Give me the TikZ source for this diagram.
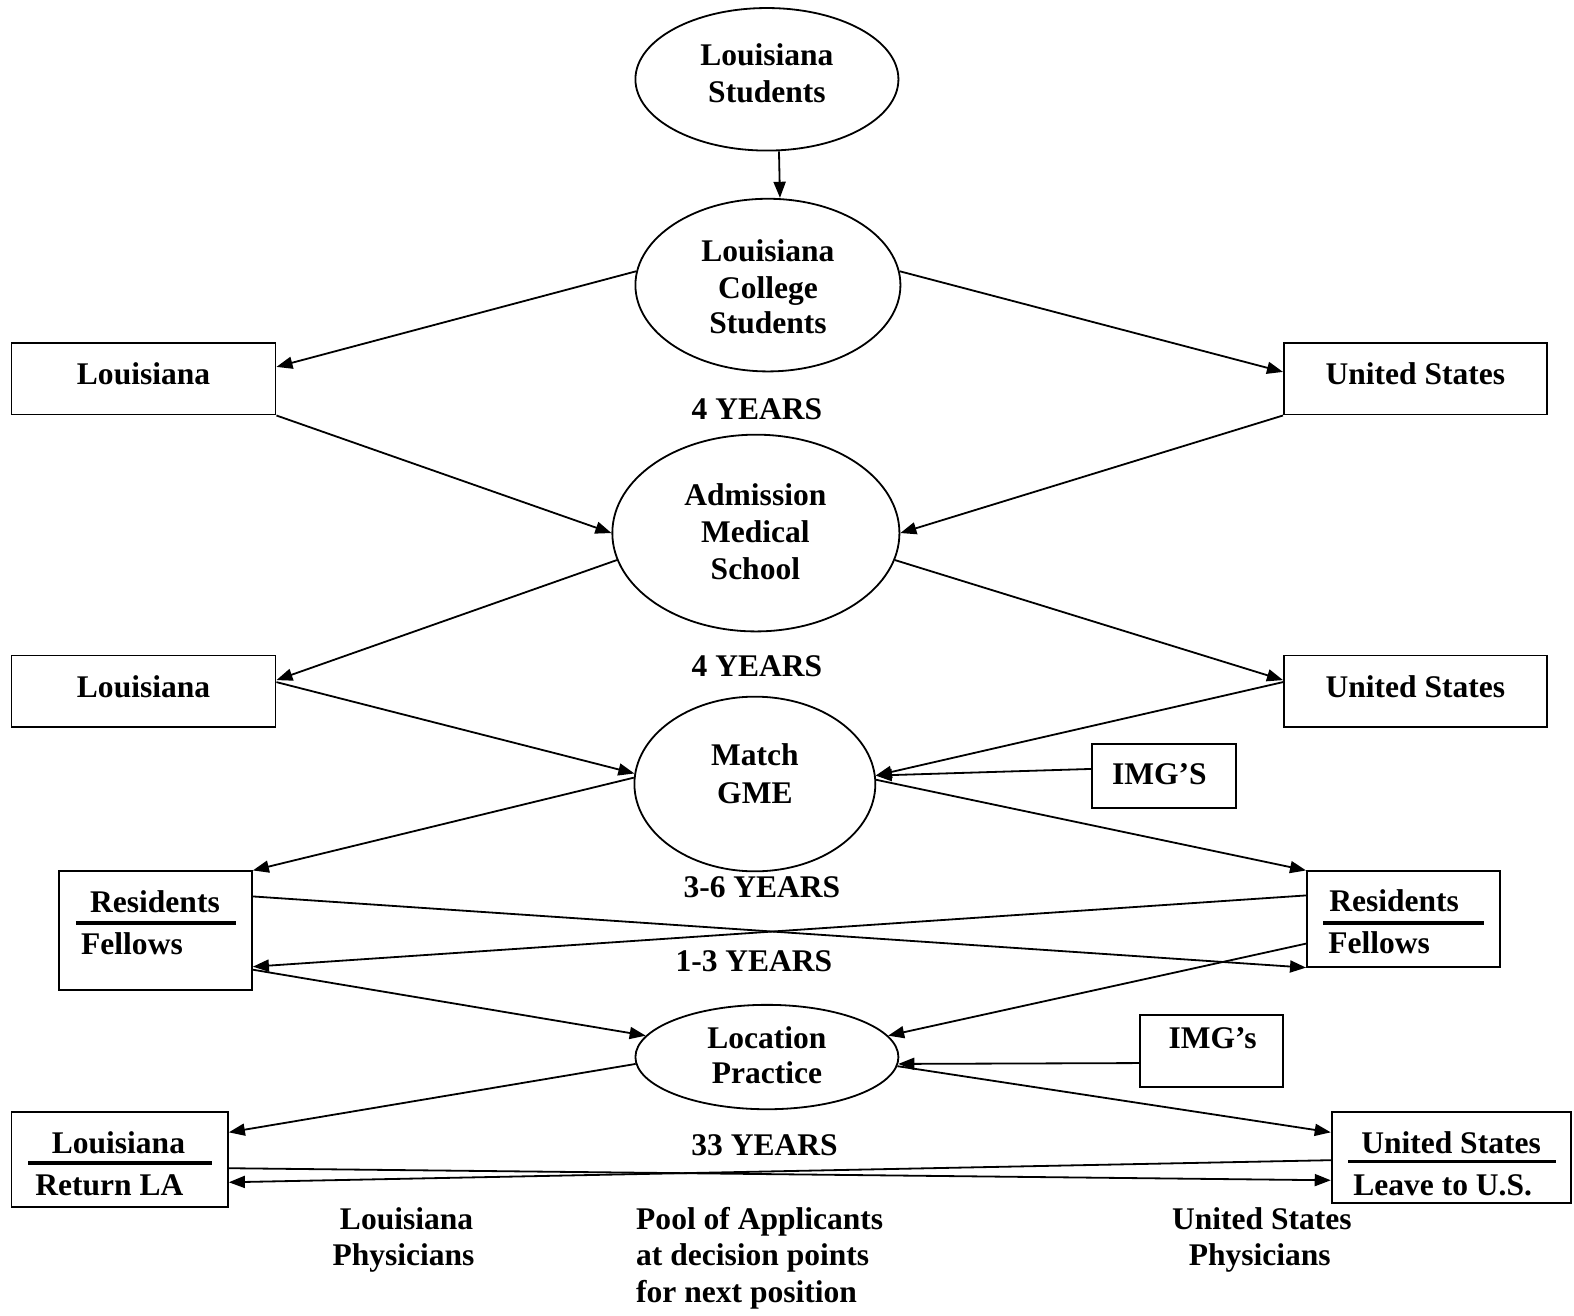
\documentclass[tikz,border=0pt]{standalone}
\usepackage{fontspec}
\setmainfont{Liberation Serif}
\usetikzlibrary{shapes.geometric,arrows.meta}
\begin{document}
\begin{tikzpicture}[x=1pt,y=-1pt,
 every node/.style={font=\fontsize{31.4}{36.3}\selectfont\bfseries},
 oval/.style={draw,ellipse,line width=1.8pt,inner sep=0pt},
 box/.style={draw,rectangle,line width=1.8pt,inner sep=0pt},
 txt/.style={anchor=base,inner sep=0pt},
 txtl/.style={anchor=base west,inner sep=0pt},
 arr/.style={line width=1.8pt,-{Triangle[length=16pt,width=12pt]}},
 rulebar/.style={line width=3.5pt}]
\fill[white] (0,0) rectangle (1568,1310);
\useasboundingbox (0,0) rectangle (1568,1310);

% ellipses
\node[oval,minimum width=262pt,minimum height=142pt] (ls) at (764,79) {};
\node[oval,minimum width=264pt,minimum height=172pt] (lcs) at (765,284) {};
\node[oval,minimum width=286pt,minimum height=196pt] (ams) at (753,531) {};
\node[oval,minimum width=240pt,minimum height=174pt] (gme) at (752,781) {};
\node[oval,minimum width=262pt,minimum height=104pt] (lp) at (764,1053) {};

\node[txt] (lsA) at (764,65.7) {Louisiana};
\node[txt] (lsB) at (764,102.3) {Students};
\node[txt] (lcsA) at (765,260.7) {Louisiana};
\node[txt] (lcsB) at (765,296.9) {College};
\node[txt] (lcsC) at (765,332.7) {Students};
\node[txt] (amsA) at (752.5,504) {Admission};
\node[txt] (amsB) at (752.5,540) {Medical};
\node[txt] (amsC) at (752.5,577) {School};
\node[txt] (gmeA) at (752,763) {Match};
\node[txt] (gmeB) at (752,800) {GME};
\node[txt] (lpA) at (764,1044) {Location};
\node[txt] (lpB) at (764,1079) {Practice};

% boxes
\node[box,minimum width=263pt,minimum height=71pt] (b1) at (143,377.5) {};
\node[box,minimum width=262pt,minimum height=71pt] (us1) at (1410,377.5) {};
\node[box,minimum width=263pt,minimum height=71pt] (b2) at (143,688.5) {};
\node[box,minimum width=262pt,minimum height=71pt] (us2) at (1410,688.5) {};
\node[box,minimum width=143pt,minimum height=64pt] (img1) at (1159.5,773) {};
\node[box,minimum width=192pt,minimum height=118pt] (resL) at (155,927) {};
\node[box,minimum width=192pt,minimum height=95pt] (resR) at (1398,915.5) {};
\node[box,minimum width=142pt,minimum height=72pt] (img2) at (1207,1047) {};
\node[box,minimum width=215.5pt,minimum height=94.5pt] (laR) at (119.3,1154.75) {};
\node[box,minimum width=238pt,minimum height=90.5pt] (usL) at (1445.6,1152.75) {};

\node[txt] (b1t) at (143,383.5) {Louisiana};
\node[txt] (us1t) at (1410,383) {United States};
\node[txt] (b2t) at (143,695) {Louisiana};
\node[txt] (us2t) at (1410,695) {United States};
\node[txt] (img1t) at (1155,781) {IMG’S};
\node[txt] (img2t) at (1208,1044) {IMG’s};
\node[txt] (resLa) at (154.4,909.5) {Residents};
\node[txtl] (resLb) at (80.7,951) {Fellows};
\draw[rulebar] (75.7,919.5) -- (235,919.5);
\node[txtl] (resRa) at (1324,908.5) {Residents};
\node[txtl] (resRb) at (1323,950) {Fellows};
\draw[rulebar] (1318,919.5) -- (1478,919.5);
\node[txt] (laRa) at (118,1149) {Louisiana};
\node[txtl] (laRb) at (35,1190.5) {Return LA};
\draw[rulebar] (28,1158.5) -- (211,1158.5);
\node[txt] (usLa) at (1445.5,1149) {United States};
\node[txtl] (usLb) at (1348,1190.5) {Leave to U.S.};
\draw[rulebar] (1343,1157) -- (1550,1157);

% labels
\node[txt] (y1) at (754,418) {4 YEARS};
\node[txt] (y2) at (754,674) {4 YEARS};
\node[txt] (y3) at (759,894) {3-6 YEARS};
\node[txt] (y4) at (751,968) {1-3 YEARS};
\node[txt] (y5) at (761.6,1150.6) {33 YEARS};
\node[txt] (lpa) at (405,1224.4) {Louisiana};
\node[txt] (lpb) at (402,1261) {Physicians};
\node[txt] (upa) at (1257,1224.4) {United States};
\node[txt] (upb) at (1255,1261) {Physicians};
\node[txtl] (poolA) at (633.6,1224.4) {Pool of Applicants};
\node[txtl] (poolB) at (633.6,1261) {at decision points};
\node[txtl] (poolC) at (633.6,1298) {for next position};

% connectors
\draw[arr] ([xshift=12pt]ls.south) -- ([xshift=12pt]lcs.north);
\draw[arr] (lcs.174) -- ([yshift=12pt]b1.east);
\draw[arr] (lcs.6) -- ([yshift=7pt]us1.west);
\draw[arr] (b1.south east) -- (ams.west);
\draw[arr] (us1.south west) -- (ams.east);
\draw[arr] (ams.-169) -- ([yshift=11pt]b2.east);
\draw[arr] (ams.-11) -- ([yshift=11pt]us2.west);
\draw[arr] ([yshift=9pt]b2.east) -- (gme.175.7);
\draw[arr] ([yshift=9pt]us2.west) -- (gme.4.3);
\draw[arr] ([yshift=7pt]img1.west) -- (gme.4.8);
\draw[arr] (gme.177.1) -- (resL.north east);
\draw[arr] (gme.2.9) -- (resR.north west);
\draw[arr] ([yshift=34pt]resL.east) -- (resR.south west);
\draw[arr] ([yshift=23.5pt]resR.west) -- ([yshift=-36pt]resL.east);
\draw[arr] ([yshift=-39pt]resL.east) -- (lp.170);
\draw[arr] ([yshift=-24.5pt]resR.west) -- (lp.10);
\draw[arr] ([yshift=-12pt]img2.west) -- (lp.-3);
\draw[arr] (lp.-177.4) -- ([yshift=26.75pt]laR.east);
\draw[arr] (lp.-4) -- ([yshift=24.75pt]usL.west);
\draw[arr] ([yshift=-9pt]laR.east) -- ([yshift=-23pt]usL.west);
\draw[arr] ([yshift=-3pt]usL.west) -- ([yshift=-23pt]laR.east);
\end{tikzpicture}
\end{document}
